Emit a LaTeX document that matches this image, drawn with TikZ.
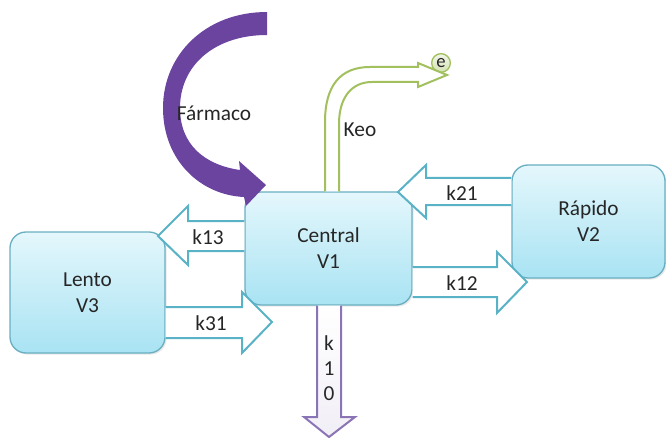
\documentclass[tikz,border=0pt]{standalone}
\usepackage{fontspec}
\setmainfont{Carlito}
\usepackage{xcolor}
\definecolor{cBoxTop}{HTML}{E4F7FC}
\definecolor{cBoxBot}{HTML}{A9E3F3}
\definecolor{cBoxLine}{HTML}{6AAFC1}
\definecolor{cAqua}{HTML}{5AB2C6}
\definecolor{cLila}{HTML}{8B74B5}
\definecolor{cDose}{HTML}{6B44A0}
\definecolor{cGreen}{HTML}{A2C05E}
\definecolor{cText}{HTML}{262626}
\usepackage{tikz}
\usetikzlibrary{calc,shadows}
\tikzset{
  node-comp/.style={draw=cBoxLine,line width=1pt,rounded corners=12pt,
    top color=cBoxTop,bottom color=cBoxBot,align=center,
    drop shadow={opacity=0.18,shadow xshift=1.2pt,shadow yshift=-1.2pt},
    font=\fontsize{16}{19.5}\selectfont,text=cText},
  node-rate/.style={font=\fontsize{16}{19.5}\selectfont,text=cText,
    inner sep=0pt,align=center},
  node-eff/.style={circle,draw=cGreen,line width=1pt,top color=cGreen!15,
    bottom color=cGreen!45,minimum size=14pt,inner sep=0pt,
    font=\fontsize{14}{16}\selectfont,text=cText},
  % flechas de bloque: azul (intercambio), lila (eliminacion), verde (efecto)
  arrow-flow/.style={draw=cAqua,line width=1.5pt,fill=white},
  arrow-elim/.style={draw=cLila,line width=1.5pt,top color=white,
    bottom color=cLila!12},
  arrow-keo/.style={draw=cGreen,line width=1.5pt,fill=white},
  arrow-dose/.style={fill=cDose,draw=none},
}

\begin{document}
\begin{tikzpicture}[x=0.75pt,y=-0.75pt]
  \useasboundingbox (0,0) rectangle (666,438);
  \node[node-comp,minimum width=125.25pt,minimum height=84.75pt]
    (central) at (328.5,248.5) {Central\\V1};
  \node[node-comp,minimum width=116.25pt,minimum height=90.75pt]
    (lento)   at (87.5,292.5)  {Lento\\V3};
  \node[node-comp,minimum width=114.75pt,minimum height=84.75pt]
    (rapido)  at (588.5,221.5) {Rápido\\V2};
  \node[node-eff] (efecto) at (441,63) {e};
  \coordinate (keo-tip)  at (447,75);
  \coordinate (dose-tip) at (266,185);

  % k13 / k31
  \draw[arrow-flow] (central.west |- 0,221) -- (188,221) -- (188,206)
    -- (158,236) -- (188,265) -- (188,251) -- (central.west |- 0,251);
  \draw[arrow-flow] (lento.east |- 0,307) -- (242,307) -- (242,292)
    -- (272,322) -- (242,353) -- (242,338) -- (lento.east |- 0,338);
  % k21 / k12
  \draw[arrow-flow] (rapido.west |- 0,178) -- (426,178) -- (426,165)
    -- (398,192) -- (426,218) -- (426,205) -- (rapido.west |- 0,205);
  \draw[arrow-flow] (central.east |- 0,267) -- (497,267) -- (497,252)
    -- (527,282) -- (497,313) -- (497,297) -- (central.east |- 0,297);
  % k10
  \draw[arrow-elim] (central.south -| 317,0) -- (317,417) -- (304,417)
    -- (329,437) -- (355,417) -- (341,417) -- (central.south -| 341,0);
  % Keo
  \draw[arrow-keo] (central.north -| 325,0) -- (325,122)
    .. controls (325,86) and (340,67) .. (370,67) -- (418,67) -- (418,63)
    -- (keo-tip) -- (418,87) -- (418,82) -- (372,82)
    .. controls (352,82) and (339,97) .. (339,124)
    -- (central.north -| 339,0);
  % dosis
  \draw[arrow-dose] (267,12) .. controls (205,12) and (163,55) .. (163,108)
    .. controls (163,160) and (200,195) .. (244,197) -- (246,206)
    -- (dose-tip) -- (239,161) -- (240,170)
    .. controls (205,165) and (180,145) .. (180,108)
    .. controls (180,65) and (215,35) .. (267,35) -- cycle;

  \node[node-rate] (k13) at (208,237) {k13};
  \node[node-rate] (k31) at (211,323) {k31};
  \node[node-rate] (k21) at (462,193) {k21};
  \node[node-rate] (k12) at (462,283) {k12};
  \node[node-rate,font=\fontsize{16}{18.75}\selectfont] (k10) at (329,368) {k\\1\\0};
  \node[node-rate] (keo) at (360,130) {Keo};
  \node[node-rate] (farmaco) at (214,113) {Fármaco};
\end{tikzpicture}
\end{document}
